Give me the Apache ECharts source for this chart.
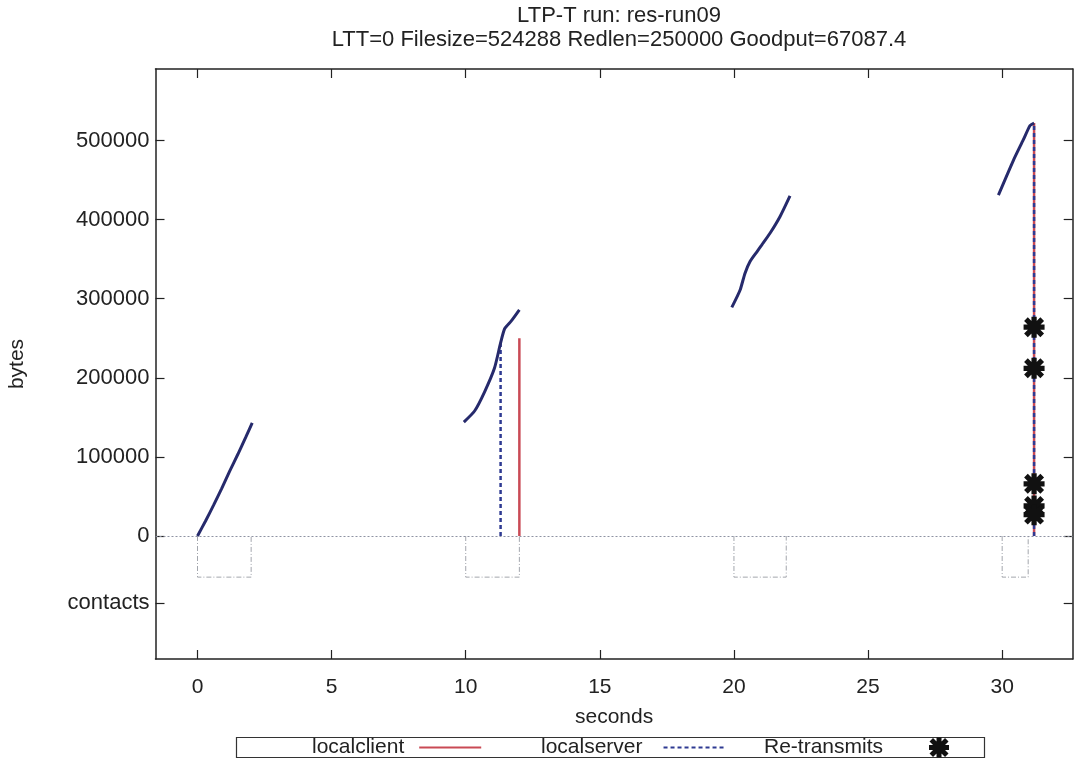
<!DOCTYPE html>
<html>
<head>
<meta charset="utf-8">
<title>LTP-T run: res-run09</title>
<script src="https://cdn.jsdelivr.net/npm/echarts@6/dist/echarts.min.js"></script>
<style>
  html, body { margin: 0; padding: 0; background: #ffffff; }
  #chart { width: 1077px; height: 759px; }
</style>
</head>
<body>
<div id="chart"></div>
<script>
// ---- axis ticks and ranges ----
const xTickValues = [0, 5, 10, 15, 20, 25, 30];
const yTickValues = [0, 100000, 200000, 300000, 400000, 500000];
const contactsRow = -84700;           // row where the "contacts" label sits
const xRange = [-1.566, 32.63];
const yRange = [-155500, 590400];

// ---- contact windows (seconds) and their drawn depth ----
const contactStarts = [0, 10, 20, 30];
const contactEnds = [2, 12, 21.95, 30.97];
const contactDepth = -52000;

// ---- transmitted bytes over time, one burst per contact ----
const burst1 = [[0, 0], [0.3, 19000], [0.6, 39000], [0.9, 60000], [1.2, 82000], [1.5, 103000], [1.8, 125000], [2.04, 143000]];
const burst2 = [[9.93, 144000], [10.33, 158000], [10.7, 182000], [11.07, 212000], [11.3, 244000], [11.45, 262000], [11.7, 272000], [12.0, 286000]];
const burst3 = [[19.92, 289000], [20.23, 311000], [20.41, 332000], [20.6, 347000], [20.85, 359000], [21.04, 368000], [21.35, 383000], [21.72, 404000], [22.09, 430000]];
const burst4 = [[29.86, 431000], [30.42, 475000], [30.79, 501000], [31.04, 519000], [31.19, 522000]];

// ---- client (red) and server (blue dashed) verticals ----
const clientTimes = [12.0, 31.19];
const clientBytes = [250000, 522000];
const serverTimes = [11.3, 31.19];
const serverBytes = [244000, 522000];

// ---- retransmissions ----
const retransmitTime = 31.19;
const retransmitBytes = [264000, 212000, 66000, 38000, 27000];

const FONT = 'Liberation Sans, Arial, sans-serif';
const TEXT = '#222222';
const RED = '#c94a55';
const BLUE = '#2e3a92';
const NAVY = '#262a6c';
const FRAME = '#222222';

// bold asterisk marker: horizontal, vertical and two diagonal bars
const asterisk = 'path://M0 7.5L20 7.5L20 12.5L0 12.5Z M7.5 0L12.5 0L12.5 20L7.5 20Z M0.5 4L4 0.5L19.5 16L16 19.5Z M16 0.5L19.5 4L4 19.5L0.5 16Z';

const series = [];

// contact boxes below the zero line
contactStarts.forEach((s, i) => {
  const e = contactEnds[i];
  series.push({
    name: 'contacts',
    type: 'line',
    symbol: 'none',
    silent: true,
    lineStyle: { color: '#a3a6ad', width: 1, type: [5, 2, 1, 2] },
    data: [[s, 0], [s, contactDepth], [e, contactDepth], [e, 0]],
    markLine: i === 0 ? {
      silent: true,
      symbol: 'none',
      label: { show: false },
      lineStyle: { color: '#8e93a3', width: 1, type: [2, 2] },
      data: [{ yAxis: 0 }]
    } : undefined
  });
});

// client verticals
clientTimes.forEach((t, i) => {
  series.push({
    name: 'localclient',
    type: 'line',
    symbol: 'none',
    lineStyle: { color: RED, width: 2.5 },
    itemStyle: { color: RED },
    data: [[t, 0], [t, clientBytes[i]]]
  });
});

// server verticals (dashed)
serverTimes.forEach((t, i) => {
  series.push({
    name: 'localserver',
    type: 'line',
    symbol: 'none',
    lineStyle: { color: BLUE, width: 2.5, type: [4, 3] },
    itemStyle: { color: BLUE },
    data: [[t, 0], [t, serverBytes[i]]]
  });
});

// server progress curves
[burst1, burst2, burst3, burst4].forEach(b => {
  series.push({
    name: 'localserver',
    type: 'line',
    symbol: 'none',
    smooth: 0.2,
    lineStyle: { color: NAVY, width: 3 },
    itemStyle: { color: NAVY },
    data: b
  });
});

// retransmitted blocks
series.push({
  name: 'Re-transmits',
  type: 'scatter',
  symbol: asterisk,
  symbolSize: 21,
  itemStyle: { color: '#111111', opacity: 1 },
  data: retransmitBytes.map(v => [retransmitTime, v]),
  z: 5
});

const labelStyle = { fontFamily: FONT, fontSize: 21, color: TEXT };

function legendAt(name, left, padRight, lineOnly) {
  const lg = {
    data: [name],
    left: left,
    top: 737,
    padding: 0,
    align: 'right',
    itemWidth: 62,
    itemHeight: lineOnly ? 14 : 20,
    selectedMode: false,
    textStyle: { fontFamily: FONT, fontSize: 21, color: TEXT, padding: [0, padRight, 0, 0] }
  };
  lg.itemStyle = lineOnly ? { opacity: 0 } : { opacity: 1 };
  return lg;
}

const chart = echarts.init(document.getElementById('chart'), null, { renderer: 'canvas' });
chart.setOption({
  animation: false,
  backgroundColor: '#ffffff',
  title: {
    text: 'LTP-T run: res-run09\nLTT=0 Filesize=524288 Redlen=250000 Goodput=67087.4',
    left: 614,
    top: -1,
    textAlign: 'center',
    textStyle: { fontFamily: FONT, fontSize: 22, fontWeight: 'normal', color: TEXT, lineHeight: 24, align: 'center' }
  },
  graphic: [{
    type: 'rect',
    silent: true,
    shape: { x: 236.5, y: 737.5, width: 748, height: 20 },
    style: { fill: 'none', stroke: '#333333', lineWidth: 1.2 }
  }],
  legend: [
    legendAt('localclient', 312, 10, true),
    legendAt('localserver', 541, 16, true),
    legendAt('Re-transmits', 764, 20, false)
  ],
  grid: { left: 155.5, right: 4.3, top: 69, bottom: 100, outerBoundsMode: 'none' },
  xAxis: [{
    type: 'value',
    min: xRange[0],
    max: xRange[1],
    position: 'bottom',
    name: 'seconds',
    nameLocation: 'middle',
    nameGap: 48,
    nameTextStyle: labelStyle,
    axisLine: { show: true, onZero: false, lineStyle: { color: FRAME, width: 1.5 } },
    axisTick: { show: true, inside: true, length: 9, customValues: xTickValues, lineStyle: { color: FRAME, width: 1.2 } },
    axisLabel: Object.assign({ customValues: xTickValues, margin: 18 }, labelStyle),
    splitLine: { show: false }
  }, {
    type: 'value',
    min: xRange[0],
    max: xRange[1],
    position: 'top',
    axisLine: { show: true, onZero: false, lineStyle: { color: FRAME, width: 1.5 } },
    axisTick: { show: true, inside: true, length: 9, customValues: xTickValues, lineStyle: { color: FRAME, width: 1.2 } },
    axisLabel: { show: false },
    splitLine: { show: false }
  }],
  yAxis: [{
    type: 'value',
    min: yRange[0],
    max: yRange[1],
    position: 'left',
    name: 'bytes',
    nameLocation: 'middle',
    nameGap: 128,
    nameTextStyle: labelStyle,
    axisLine: { show: true, onZero: false, lineStyle: { color: FRAME, width: 1.5 } },
    axisTick: { show: true, inside: true, length: 9, customValues: [contactsRow].concat(yTickValues), lineStyle: { color: FRAME, width: 1.2 } },
    axisLabel: Object.assign({
      customValues: [contactsRow].concat(yTickValues),
      margin: 6,
      formatter: v => (v === contactsRow ? 'contacts' : String(v))
    }, labelStyle, { fontSize: 22 }),
    splitLine: { show: false }
  }, {
    type: 'value',
    min: yRange[0],
    max: yRange[1],
    position: 'right',
    axisLine: { show: true, onZero: false, lineStyle: { color: FRAME, width: 1.5 } },
    axisTick: { show: true, inside: true, length: 9, customValues: [contactsRow].concat(yTickValues), lineStyle: { color: FRAME, width: 1.2 } },
    axisLabel: { show: false },
    splitLine: { show: false }
  }],
  series: series
});
</script>
</body>
</html>
